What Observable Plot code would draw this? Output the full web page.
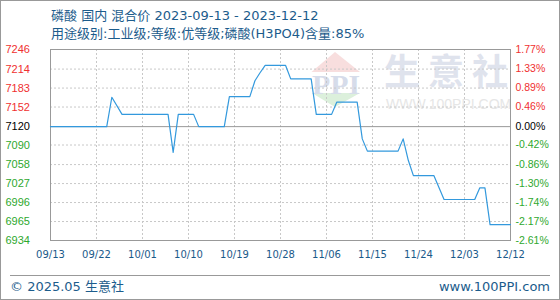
<!DOCTYPE html>
<html><head><meta charset="utf-8">
<script src="https://cdn.jsdelivr.net/npm/d3@7"></script>
<script src="https://cdn.jsdelivr.net/npm/@observablehq/plot@0.6"></script>
<style>
body{margin:0;background:#fff;}
#wrap{position:relative;width:560px;height:300px;overflow:hidden;font-family:"DejaVu Sans","Noto Sans CJK SC",sans-serif;background:#fff;}
#border{position:absolute;left:0;top:0;width:560px;height:300px;box-sizing:border-box;border:1px solid #999;pointer-events:none;}
.t{position:absolute;white-space:nowrap;color:#1c5c8c;font-size:13px;line-height:15px;}
#chart{position:absolute;left:0;top:0;}
#wm-cn{position:absolute;left:384px;top:50px;font-family:"Noto Sans CJK SC",sans-serif;font-size:36px;line-height:38px;letter-spacing:8px;font-weight:bold;color:#dfe3ed;white-space:nowrap;}
#wm-en{position:absolute;left:386px;top:96px;font-family:"Liberation Sans",sans-serif;font-size:14px;line-height:16px;color:#e6e6e6;white-space:nowrap;}
#logo{position:absolute;left:305px;top:48px;}
#sep{position:absolute;left:10px;top:275px;width:540px;height:1px;background:#999;}
</style></head><body>
<div id="wrap">
  <svg id="logo" width="60" height="62" viewBox="0 0 60 62">
    <polygon points="6.5,24 30,4 55,24" fill="#f8dede"/>
    <polygon points="7,45 55,45 30,59" fill="#dcf0dc"/>
    <text x="7" y="46" font-family="Liberation Serif" font-weight="bold" font-size="27" textLength="48" lengthAdjust="spacingAndGlyphs" fill="#d6dcea">PPI</text>
  </svg>
  <div id="wm-cn">生意社</div>
  <div id="wm-en">WWW.100PPI.COM</div>
  <div id="chart"></div>
  <div class="t" id="title" style="left:51px;top:8px;"></div>
  <div class="t" id="subtitle" style="left:51px;top:26px;"></div>
  <div id="sep"></div>
  <div class="t" id="foot-l" style="left:10px;top:279px;line-height:16px;"></div>
  <div class="t" id="foot-r" style="right:10px;top:279px;line-height:16px;"></div>
  <div id="border"></div>
</div>
<script>
const titleText = "磷酸 国内 混合价 2023-09-13 - 2023-12-12";
const subtitleText = "用途级别:工业级;等级:优等级;磷酸(H3PO4)含量:85%";
const footLeft = "© 2025.05 生意社";
const footRight = "www.100PPI.com";

const dates = ["2023-09-13","2023-09-24","2023-09-25","2023-09-27","2023-10-06","2023-10-07","2023-10-08","2023-10-11","2023-10-12","2023-10-17","2023-10-18","2023-10-22","2023-10-23","2023-10-24","2023-10-25","2023-10-29","2023-10-30","2023-11-03","2023-11-04","2023-11-07","2023-11-08","2023-11-12","2023-11-13","2023-11-14","2023-11-20","2023-11-21","2023-11-22","2023-11-23","2023-11-27","2023-11-29","2023-12-05","2023-12-06","2023-12-07","2023-12-08","2023-12-12"];
const prices = [7120,7120,7168,7140,7140,7078,7140,7140,7120,7120,7169,7169,7195,7208,7220,7220,7198,7198,7140,7140,7160,7160,7100,7080,7080,7100,7065,7040,7040,7001,7001,7020,7020,6960,6960];

const yTicks = [6934,6965,6996,7027,7058,7090,7120,7152,7183,7214,7246];
const pctLabels = ["-2.61%","-2.17%","-1.74%","-1.30%","-0.86%","-0.42%","0.00%","0.46%","0.89%","1.33%","1.77%"];
const basePrice = 7120;
const xTicks = ["2023-09-13","2023-09-22","2023-10-01","2023-10-10","2023-10-19","2023-10-28","2023-11-06","2023-11-15","2023-11-24","2023-12-03","2023-12-12"];
const xTickLabels = ["09/13","09/22","10/01","10/10","10/19","10/28","11/06","11/15","11/24","12/03","12/12"];

document.getElementById("title").textContent = titleText;
document.getElementById("subtitle").textContent = subtitleText;
document.getElementById("foot-l").textContent = footLeft;
document.getElementById("foot-r").textContent = footRight;

const data = dates.map((d, i) => ({date: new Date(d), value: prices[i]}));
const xTickDates = xTicks.map(d => new Date(d));
const col = v => v > basePrice ? "#f03030" : v < basePrice ? "#2ea82e" : "#000000";

const chart = Plot.plot({
  width: 560,
  height: 300,
  marginLeft: 50,
  marginRight: 50,
  marginTop: 49,
  marginBottom: 60,
  x: {type: "utc", domain: [xTickDates[0], xTickDates[xTickDates.length - 1]], axis: null},
  y: {domain: [yTicks[0], yTicks[yTicks.length - 1]], axis: null},
  color: {type: "identity"},
  style: {background: "transparent", fontFamily: "Liberation Sans, sans-serif", fontSize: "10px", overflow: "visible"},
  marks: [
    Plot.gridY(yTicks.filter(v => v !== basePrice), {stroke: "#c8c8c8", strokeOpacity: 1, strokeDasharray: "2,2"}),
    Plot.gridX(xTickDates.slice(1, -1), {stroke: "#c8c8c8", strokeOpacity: 1, strokeDasharray: "2,2"}),
    Plot.ruleY([basePrice], {stroke: "#999999"}),
    Plot.frame({stroke: "#999999"}),
    Plot.line(data, {x: "date", y: "value", stroke: "#3399dd", strokeWidth: 1.2}),
    Plot.text(yTicks, {y: d => d, text: d => String(d), frameAnchor: "left", dx: -45, textAnchor: "start", fill: d => col(d), fontSize: 11}),
    Plot.text(yTicks, {y: d => d, text: (d, i) => pctLabels[i], frameAnchor: "right", dx: 5, textAnchor: "start", fill: d => col(d), fontSize: 10.5}),
    Plot.text(xTickDates, {x: d => d, text: (d, i) => xTickLabels[i], frameAnchor: "bottom", dy: 17, fill: "#1a5a8a", fontSize: 10, fontFamily: "DejaVu Sans"})
  ]
});
document.getElementById("chart").appendChild(chart);
</script>
</body></html>
